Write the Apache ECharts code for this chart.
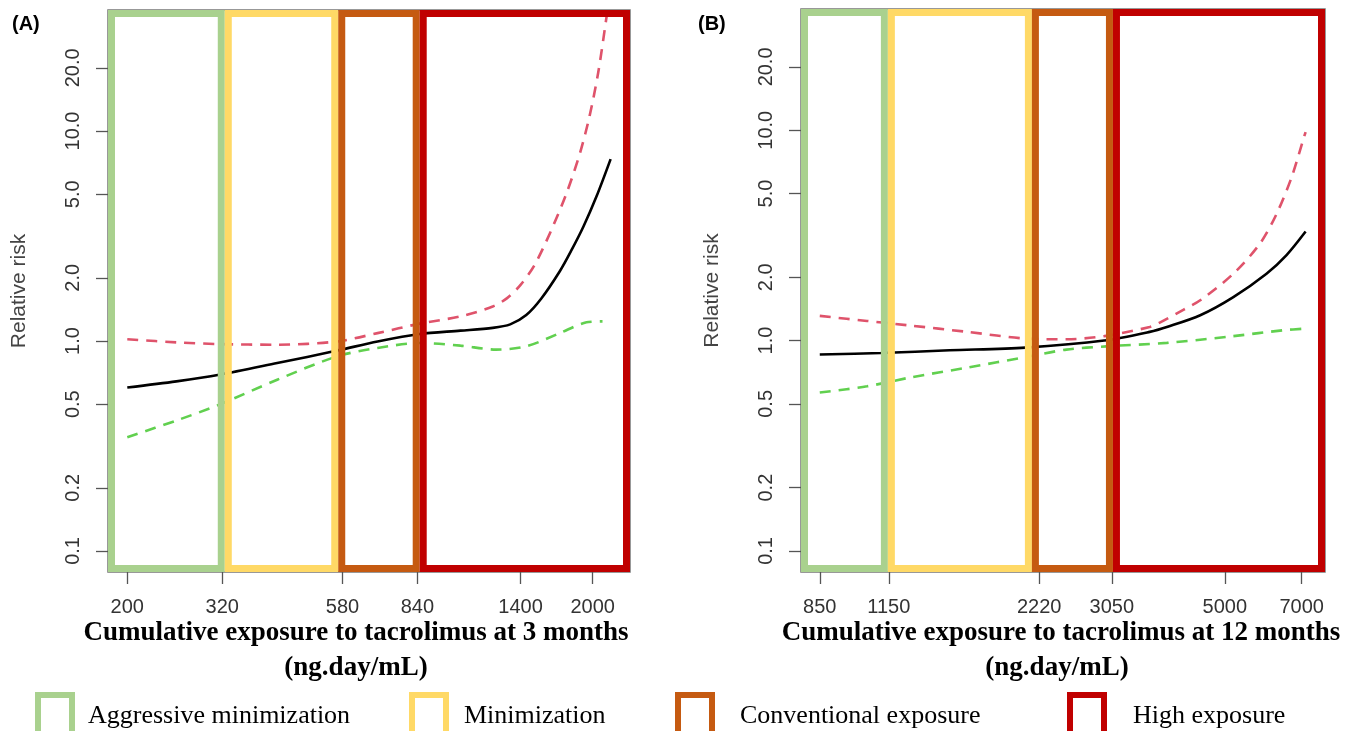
<!DOCTYPE html>
<html>
<head>
<meta charset="utf-8">
<script src="https://cdn.jsdelivr.net/npm/echarts@6/dist/echarts.min.js"></script>
<style>
html,body{margin:0;padding:0;background:#fff;}
#chart{width:1355px;height:731px;}
</style>
</head>
<body>
<div id="chart"></div>
<script>
// ---------- tick labels ----------
const xTicksA = [200, 320, 580, 840, 1400, 2000];
const xTicksB = [850, 1150, 2220, 3050, 5000, 7000];
const yTicks = [0.1, 0.2, 0.5, 1, 2, 5, 10, 20];

// ---------- axis limits ----------
const xLimA = [181.8, 2406];
const xLimB = [783, 7750];
const yLim = [0.0794, 37.7];

// ---------- exposure category cut-points ----------
const cutsA = [324, 568, 850];
const cutsB = [1145, 2150, 3065];
const regionNames = ['Aggressive minimization', 'Minimization', 'Conventional exposure', 'High exposure'];
const regionColors = ['#A9D18E', '#FFD966', '#C55A11', '#C00000'];

// ---------- Panel A: 3 months ----------
const estA_x = [200, 255, 315, 420, 565, 690, 850, 1040, 1220, 1330, 1440, 1550, 1700, 1800, 1910, 2040, 2186];
const estA_y = [0.60, 0.642, 0.69, 0.785, 0.90, 0.995, 1.08, 1.12, 1.155, 1.20, 1.33, 1.59, 2.15, 2.7, 3.5, 4.9, 7.35];
const upA_x = [200, 255, 315, 420, 565, 690, 850, 1040, 1220, 1310, 1400, 1500, 1620, 1760, 1880, 1970, 2056, 2136, 2186];
const upA_y = [1.02, 0.985, 0.967, 0.96, 0.995, 1.09, 1.21, 1.31, 1.46, 1.60, 1.85, 2.3, 3.27, 5.1, 7.9, 11.8, 19.0, 33.4, 48];
const loA_x = [200, 255, 315, 420, 565, 690, 850, 1040, 1240, 1440, 1700, 1940, 2100];
const loA_y = [0.348, 0.418, 0.497, 0.654, 0.845, 0.926, 0.978, 0.95, 0.91, 0.943, 1.09, 1.227, 1.24];

// ---------- Panel B: 12 months ----------
const estB_x = [850, 1110, 1500, 2090, 2950, 3600, 3880, 4490, 5190, 6000, 6550, 7120];
const estB_y = [0.858, 0.873, 0.899, 0.926, 1.0, 1.10, 1.16, 1.32, 1.61, 2.08, 2.55, 3.3];
const upB_x = [850, 1045, 1260, 1620, 2100, 2500, 2950, 3600, 3770, 4170, 4490, 5190, 5830, 6270, 6700, 7070, 7120];
const upB_y = [1.31, 1.24, 1.18, 1.10, 1.022, 1.014, 1.05, 1.16, 1.22, 1.40, 1.554, 2.08, 2.89, 4.0, 6.0, 9.28, 9.8];
const loB_x = [850, 1045, 1260, 1620, 2100, 2500, 2980, 3880, 5190, 6460, 7120];
const loB_y = [0.566, 0.606, 0.667, 0.744, 0.836, 0.906, 0.939, 0.975, 1.05, 1.12, 1.14];

const zip = (xs, ys) => xs.map((x, i) => [x, ys[i]]);

const chart = echarts.init(document.getElementById('chart'), null, {renderer: 'canvas'});

const tickFont = {fontFamily: 'Liberation Sans', fontSize: 20, color: '#333'};

function xAxisFor(gi, lim, ticks) {
  return {
    type: 'log', logBase: 10, gridIndex: gi, min: lim[0], max: lim[1],
    axisLine: {show: false},
    axisTick: {show: true, customValues: ticks, length: 12, lineStyle: {color: '#555', width: 1.3}},
    axisLabel: Object.assign({customValues: ticks, margin: 25, formatter: v => String(Math.round(v))}, tickFont),
    splitLine: {show: false}
  };
}
function yAxisFor(gi) {
  return {
    type: 'log', logBase: 10, gridIndex: gi, min: yLim[0], max: yLim[1],
    axisLine: {show: false},
    axisTick: {show: true, customValues: yTicks, length: 12, lineStyle: {color: '#555', width: 1.3}},
    axisLabel: Object.assign({customValues: yTicks, rotate: 90, margin: 25, formatter: v => Number(v).toFixed(1)}, tickFont),
    splitLine: {show: false},
    name: 'Relative risk', nameLocation: 'middle', nameGap: 78,
    nameTextStyle: {fontFamily: 'Liberation Sans', fontSize: 21, color: '#444'}
  };
}

function regionRender(color) {
  return function (params, api) {
    const cs = params.coordSys;
    const lw = 7;
    let px0 = api.coord([api.value(0), 1])[0];
    let px1 = api.coord([api.value(1), 1])[0];
    px0 = Math.max(px0, cs.x);
    px1 = Math.min(px1, cs.x + cs.width);
    return {
      type: 'rect',
      shape: {x: px0 + lw / 2, y: cs.y + lw / 2, width: px1 - px0 - lw, height: cs.height - lw},
      style: {fill: 'none', stroke: color, lineWidth: lw}
    };
  };
}

function regionSeries(gi, lim, cuts) {
  const bounds = [lim[0]].concat(cuts).concat([lim[1]]);
  return regionNames.map((name, i) => ({
    type: 'custom', name: name, xAxisIndex: gi, yAxisIndex: gi,
    coordinateSystem: 'cartesian2d',
    dimensions: ['from', 'to'],
    encode: {x: [0, 1]},
    renderItem: regionRender(regionColors[i]),
    itemStyle: {color: regionColors[i]},
    data: [[bounds[i], bounds[i + 1]]],
    silent: true, z: 5
  }));
}

function lineSeries(gi, xs, ys, color, dashed) {
  return {
    type: 'line', xAxisIndex: gi, yAxisIndex: gi,
    data: zip(xs, ys), showSymbol: false, smooth: 0.3,
    lineStyle: {color: color, width: 2.6, type: dashed ? [11, 8] : 'solid'},
    silent: true, z: 3
  };
}

const legendLefts = [35, 409, 675, 1067];
const legendGaps = [11, 13, 23, 24];
const legends = regionNames.map((name, i) => ({
  left: legendLefts[i], top: 692, orient: 'horizontal', padding: 0,
  itemWidth: 34, itemHeight: 42, selectedMode: false,
  data: [{name: name, icon: 'rect', itemStyle: {color: '#fff', borderColor: regionColors[i], borderWidth: 6}}],
  textStyle: {fontFamily: 'Liberation Serif', fontSize: 26, color: '#000', padding: [0, 0, 0, legendGaps[i]]}
}));

const titleFont = 'bold 27px "Liberation Serif"';
const option = {
  animation: false,
  backgroundColor: '#fff',
  grid: [
    {left: 108, top: 10, width: 522, height: 562, show: true, borderColor: '#777', borderWidth: 1.5, backgroundColor: 'transparent'},
    {left: 801, top: 9, width: 524, height: 563, show: true, borderColor: '#777', borderWidth: 1.5, backgroundColor: 'transparent'}
  ],
  xAxis: [xAxisFor(0, xLimA, xTicksA), xAxisFor(1, xLimB, xTicksB)],
  yAxis: [yAxisFor(0), yAxisFor(1)],
  legend: legends,
  graphic: [
    {type: 'text', left: 12, top: 14, style: {text: '(A)', font: 'bold 20px "Liberation Sans"', fill: '#000'}},
    {type: 'text', left: 698, top: 14, style: {text: '(B)', font: 'bold 20px "Liberation Sans"', fill: '#000'}},
    {type: 'text', x: 356, y: 633, style: {text: 'Cumulative exposure to tacrolimus at 3 months', font: titleFont, fill: '#000', align: 'center', verticalAlign: 'middle'}},
    {type: 'text', x: 356, y: 668, style: {text: '(ng.day/mL)', font: titleFont, fill: '#000', align: 'center', verticalAlign: 'middle'}},
    {type: 'text', x: 1061, y: 633, style: {text: 'Cumulative exposure to tacrolimus at 12 months', font: titleFont, fill: '#000', align: 'center', verticalAlign: 'middle'}},
    {type: 'text', x: 1057, y: 668, style: {text: '(ng.day/mL)', font: titleFont, fill: '#000', align: 'center', verticalAlign: 'middle'}}
  ],
  series: [
    lineSeries(0, estA_x, estA_y, '#000000', false),
    lineSeries(0, upA_x, upA_y, '#DF536B', true),
    lineSeries(0, loA_x, loA_y, '#61D04F', true),
    lineSeries(1, estB_x, estB_y, '#000000', false),
    lineSeries(1, upB_x, upB_y, '#DF536B', true),
    lineSeries(1, loB_x, loB_y, '#61D04F', true)
  ].concat(regionSeries(0, xLimA, cutsA)).concat(regionSeries(1, xLimB, cutsB))
};
chart.setOption(option);
</script>
</body>
</html>
